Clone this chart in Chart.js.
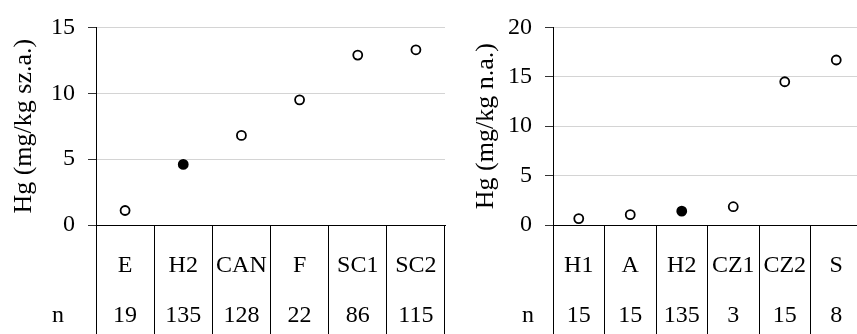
<!DOCTYPE html>
<html>
<head>
<meta charset="utf-8">
<script src="https://cdn.jsdelivr.net/npm/chart.js@4/dist/chart.umd.min.js"></script>
<style>
html, body { margin: 0; padding: 0; background: #fff; overflow: hidden; width: 857px; height: 334px; }
#left { position: absolute; left: 0; top: 0; }
#right { position: absolute; left: 446px; top: 0; }
</style>
</head>
<body>
<canvas id="left" width="446" height="334"></canvas>
<canvas id="right" width="416" height="334"></canvas>
<script>
// left panel: dry matter
var leftCategories = ['E', 'H2', 'CAN', 'F', 'SC1', 'SC2'];
var leftN = ['19', '135', '128', '22', '86', '115'];
var leftValues = [1.1, 4.6, 6.8, 9.5, 12.9, 13.3];
var leftTicks = [0, 5, 10, 15];
var leftTitle = 'Hg (mg/kg sz.a.)';

// right panel: fresh weight
var rightCategories = ['H1', 'A', 'H2', 'CZ1', 'CZ2', 'S'];
var rightN = ['15', '15', '135', '3', '15', '8'];
var rightValues = [0.65, 1.05, 1.4, 1.85, 14.5, 16.7];
var rightTicks = [0, 5, 10, 15, 20];
var rightTitle = 'Hg (mg/kg n.a.)';

var highlight = 'H2';
var rowHeader = 'n';

Chart.defaults.font.family = "'Liberation Serif', 'Times New Roman', serif";
Chart.defaults.font.size = 24;
Chart.defaults.color = '#000';

var TICK_LEN = 110, TICK_PAD = -94, ROW_H = 50;

var rowHeaderPlugin = {
    id: 'rowHeader',
    afterDraw: function(chart, args, opts) {
        var xs = chart.scales.x;
        var ctx = chart.ctx;
        var y = xs.top + TICK_LEN + TICK_PAD + ROW_H * 1.5;
        ctx.save();
        ctx.font = '24px ' + Chart.defaults.font.family;
        ctx.fillStyle = '#000';
        ctx.textAlign = 'center';
        ctx.textBaseline = 'middle';
        ctx.fillText(opts.text, chart.chartArea.left - opts.offset, y);
        ctx.restore();
    }
};

function makeChart(id, cats, ns, values, ticks, title, o) {
    var labels = cats.map(function(c, i) { return [c, ns[i]]; });
    var ctx = document.getElementById(id).getContext('2d');
    return new Chart(ctx, {
        type: 'line',
        data: {
            labels: labels,
            datasets: [{
                data: values,
                showLine: false,
                pointRadius: 4.5,
                pointHoverRadius: 4.5,
                pointBorderWidth: 1.8,
                pointBorderColor: '#000',
                pointBackgroundColor: cats.map(function(c) { return c === highlight ? '#000' : '#fff'; })
            }]
        },
        options: {
            responsive: false,
            animation: false,
            layout: { autoPadding: false, padding: { top: o.top, right: o.right, left: 0, bottom: 0 } },
            plugins: {
                legend: { display: false },
                tooltip: { enabled: false },
                rowHeader: { text: rowHeader, offset: o.nOffset }
            },
            scales: {
                x: {
                    offset: true,
                    grid: { offset: true, drawOnChartArea: false, drawTicks: true, tickLength: TICK_LEN, color: '#000' },
                    border: { display: true, color: '#000', width: 1 },
                    ticks: { autoSkip: false, maxRotation: 0, padding: TICK_PAD, font: { size: 24, lineHeight: ROW_H + 'px' } },
                    afterFit: function(s) { s.height = 109; }
                },
                y: {
                    min: ticks[0],
                    max: ticks[ticks.length - 1],
                    afterBuildTicks: function(s) { s.ticks = ticks.map(function(v) { return { value: v }; }); },
                    grid: {
                        color: function(c) { return c.tick && c.tick.value === 0 ? '#000' : '#d4d4d4'; },
                        tickColor: '#333',
                        tickLength: 8
                    },
                    border: { display: true, color: '#000', width: 1 },
                    ticks: { padding: 13, font: { size: 24 } },
                    title: { display: true, text: title, font: { size: 26 }, padding: { top: o.titleTop, bottom: 0 } },
                    afterFit: function(s) { s.width = o.axisWidth; }
                }
            }
        },
        plugins: [rowHeaderPlugin]
    });
}

makeChart('left', leftCategories, leftN, leftValues, leftTicks, leftTitle,
    { top: 22, right: 1, nOffset: 38, titleTop: 9, axisWidth: 96 });
makeChart('right', rightCategories, rightN, rightValues, rightTicks, rightTitle,
    { top: 20, right: 0, nOffset: 25, titleTop: 25, axisWidth: 107 });
</script>
</body>
</html>
